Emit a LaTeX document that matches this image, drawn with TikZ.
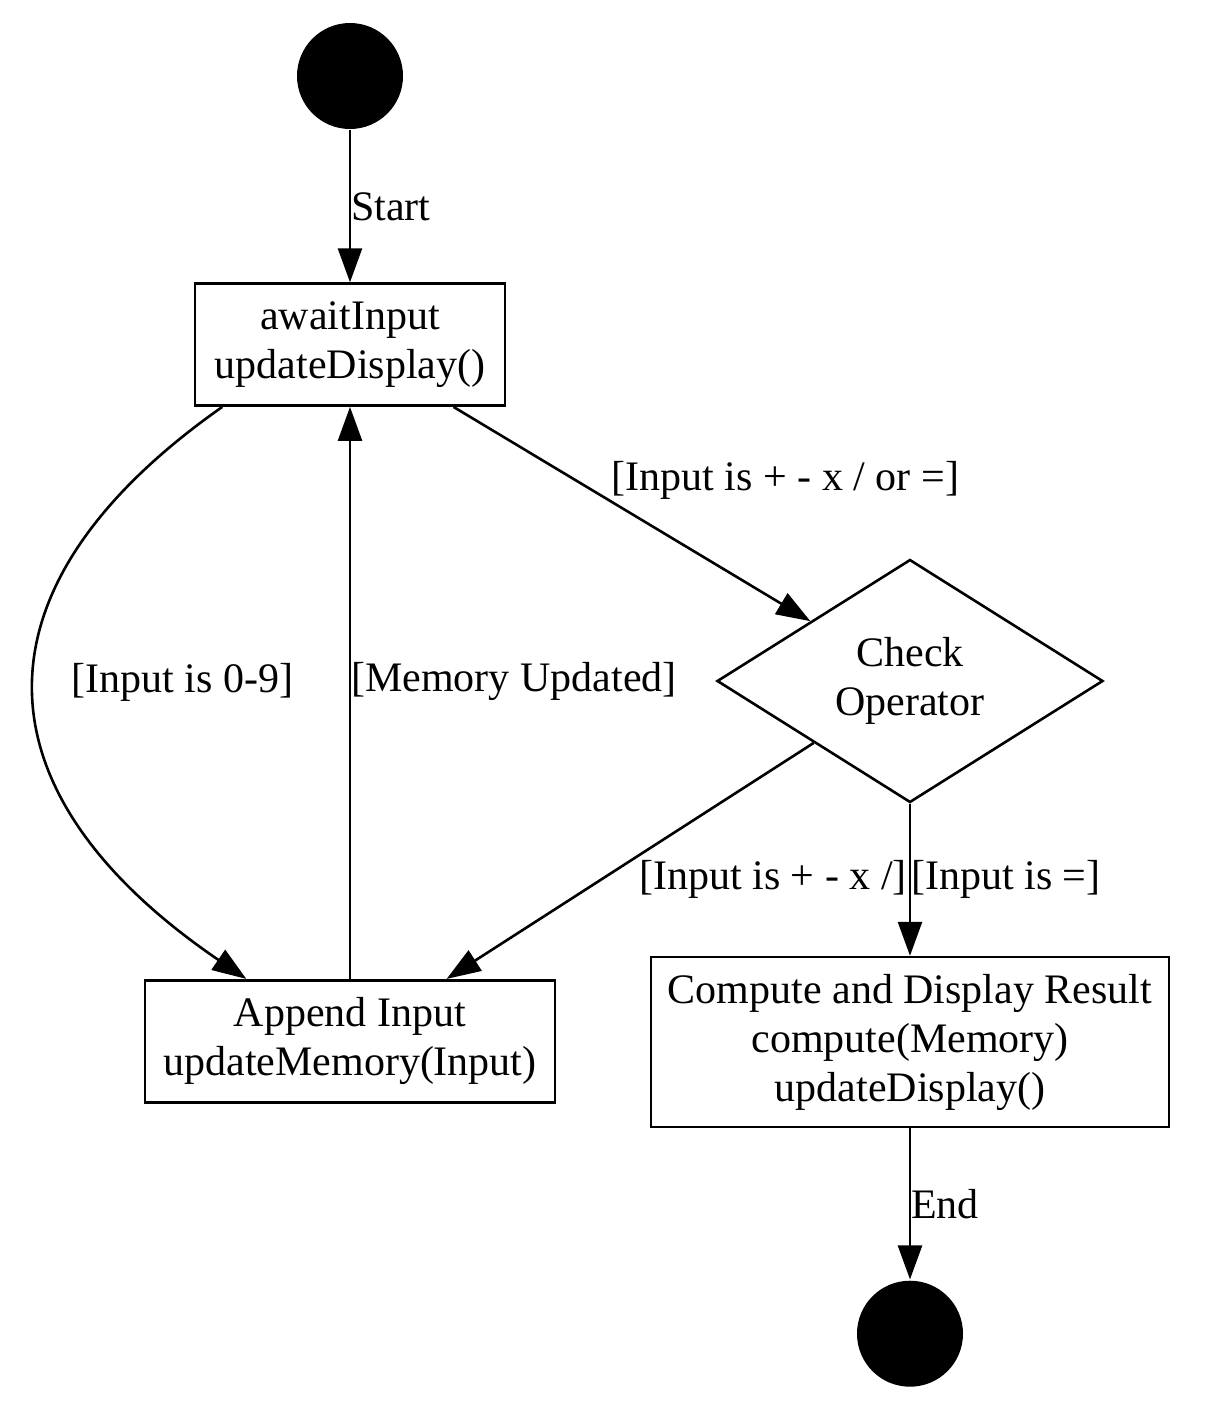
\documentclass[tikz,border=0pt]{standalone}
\usepackage{fontspec}
\setmainfont{Liberation Serif}
\usetikzlibrary{shapes.geometric,arrows.meta,positioning}

\begin{document}
\begin{tikzpicture}[x=0.5pt,y=-0.5pt,line width=1.3pt,>={Triangle[length=17pt,width=12pt]},
    every node/.style={font=\fontsize{21}{24.5}\selectfont, align=center},
    box/.style={draw, rectangle, inner sep=0pt},
    dot/.style={circle, fill, minimum size=53pt, inner sep=0pt},
    guard/.style={inner sep=0pt, anchor=west}]
    \useasboundingbox (0,0) rectangle (1228,1426);
    % create the nodes
    \node (start)[dot] at (350,76) {};
    \node (await)[box, below =76pt of start, minimum width=155pt, minimum height=61pt]{awaitInput\\updateDisplay()};
    \node (append)[box, below =286pt of await, minimum width=205pt, minimum height=61pt]{Append Input\\updateMemory(Input)};
    \node (check)[draw, diamond, minimum width=193pt, minimum height=121.5pt, inner sep=0pt] at (910,681) {Check\\Operator};
    \node (compute)[box, below =76pt of check, minimum width=259pt, minimum height=85pt]{Compute and Display Result\\compute(Memory)\\updateDisplay()};
    \node (stop)[dot, below =75.5pt of compute]{};
    % connect the nodes
    \draw[->] (start) -- node[guard, pos=0.5] {Start} (await);
    \draw[->] (await) -- node[guard, anchor=south west, pos=0.44] {[Input is + - x / or =]} (check);
    \draw[->] (await.206.6) .. controls (-37,589) and (-25,794) .. node[guard, pos=0.5, xshift=17.5pt, yshift=4.5pt] {[Input is 0-9]} (append.149.8);
    \draw[->] (append) -- node[guard, pos=0.52] {[Memory Updated]} (await);
    \draw[->] (check) -- node[guard, pos=0.577, xshift=18pt] {[Input is + - x /]} (append);
    \draw[->] (check) -- node[guard, pos=0.5] {[Input is =]} (compute);
    \draw[->] (compute) -- node[guard, pos=0.5] {End} (stop);
\end{tikzpicture}
\end{document}
